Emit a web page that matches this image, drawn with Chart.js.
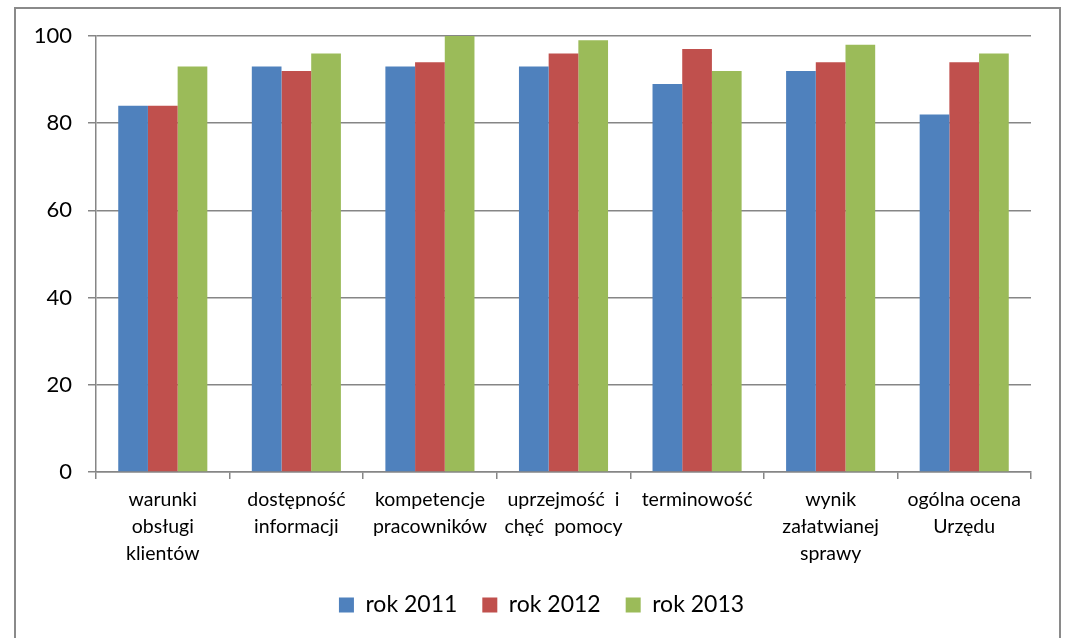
<!DOCTYPE html>
<html lang="pl">
<head>
    <meta charset="UTF-8">
    <title>Ocena Urzędu</title>
    <script src="https://cdn.jsdelivr.net/npm/chart.js"></script>
    <style>
        body {
            margin: 0;
            background: #fff;
        }
        #wrap {
            width: 1066px;
            height: 638px;
            position: relative;
        }
    </style>
</head>
<body>
    <div id="wrap">
        <canvas id="chart"></canvas>
    </div>
    <script>
        const categories = [
            ['warunki', 'obsługi', 'klientów'],
            ['dostępność', 'informacji'],
            ['kompetencje', 'pracowników'],
            ['uprzejmość  i', 'chęć  pomocy'],
            ['terminowość'],
            ['wynik', 'załatwianej', 'sprawy'],
            ['ogólna ocena', 'Urzędu']
        ];
        const rok2011 = [84, 93, 93, 93, 89, 92, 82];
        const rok2012 = [84, 92, 94, 96, 97, 94, 94];
        const rok2013 = [93, 96, 100, 99, 92, 98, 96];
        const yTicks = [0, 20, 40, 60, 80, 100];

        const gridGray = '#868686';

        // outer frame like the spreadsheet chart box
        const framePlugin = {
            id: 'frame',
            beforeDraw(chart) {
                const ctx = chart.ctx;
                ctx.save();
                ctx.fillStyle = '#fff';
                ctx.fillRect(0, 0, chart.width, chart.height);
                ctx.strokeStyle = '#8a8a8a';
                ctx.lineWidth = 2;
                ctx.strokeRect(15, 8, 1045, 650);
                ctx.restore();
            }
        };

        // centre the legend under the frame instead of the whole canvas
        const legendShift = {
            id: 'legendShift',
            afterLayout(chart) {
                if (chart.legend) {
                    chart.legend.left += 26;
                    chart.legend.right += 26;
                }
            }
        };

        const ctx = document.getElementById('chart').getContext('2d');
        new Chart(ctx, {
            type: 'bar',
            data: {
                labels: categories,
                datasets: [
                    { label: 'rok 2011', data: rok2011, backgroundColor: '#4F81BD' },
                    { label: 'rok 2012', data: rok2012, backgroundColor: '#C0504D' },
                    { label: 'rok 2013', data: rok2013, backgroundColor: '#9BBB59' }
                ]
            },
            options: {
                responsive: true,
                maintainAspectRatio: false,
                animation: false,
                layout: {
                    padding: { top: 36, right: 35, bottom: 11.5, left: 0 }
                },
                datasets: {
                    bar: {
                        categoryPercentage: 0.667,
                        barPercentage: 1.0,
                        borderWidth: 0
                    }
                },
                scales: {
                    x: {
                        grid: {
                            offset: true,
                            drawOnChartArea: false,
                            drawTicks: true,
                            tickLength: 7,
                            color: gridGray,
                            lineWidth: 1.5
                        },
                        border: { color: gridGray, width: 1.5 },
                        ticks: {
                            color: '#000',
                            padding: 7,
                            maxRotation: 0,
                            autoSkip: false,
                            font: { family: 'Lato', size: 19.5, lineHeight: 1.38 }
                        },
                        afterFit(scale) { scale.height = 96.5; }
                    },
                    y: {
                        min: 0,
                        max: 100,
                        afterBuildTicks(scale) {
                            scale.ticks = yTicks.map(v => ({ value: v }));
                        },
                        grid: {
                            color: gridGray,
                            lineWidth: 1.5,
                            tickLength: 8
                        },
                        border: { color: gridGray, width: 1.5 },
                        ticks: {
                            color: '#000',
                            padding: 16,
                            font: { family: 'Lato', size: 22 }
                        },
                        afterFit(scale) { scale.width = 96; }
                    }
                },
                plugins: {
                    legend: {
                        position: 'bottom',
                        labels: {
                            color: '#000',
                            boxWidth: 15,
                            boxHeight: 15,
                            padding: 25,
                            font: { family: 'Lato', size: 23 }
                        }
                    },
                    tooltip: { enabled: false }
                }
            },
            plugins: [framePlugin, legendShift]
        });
    </script>
</body>
</html>
